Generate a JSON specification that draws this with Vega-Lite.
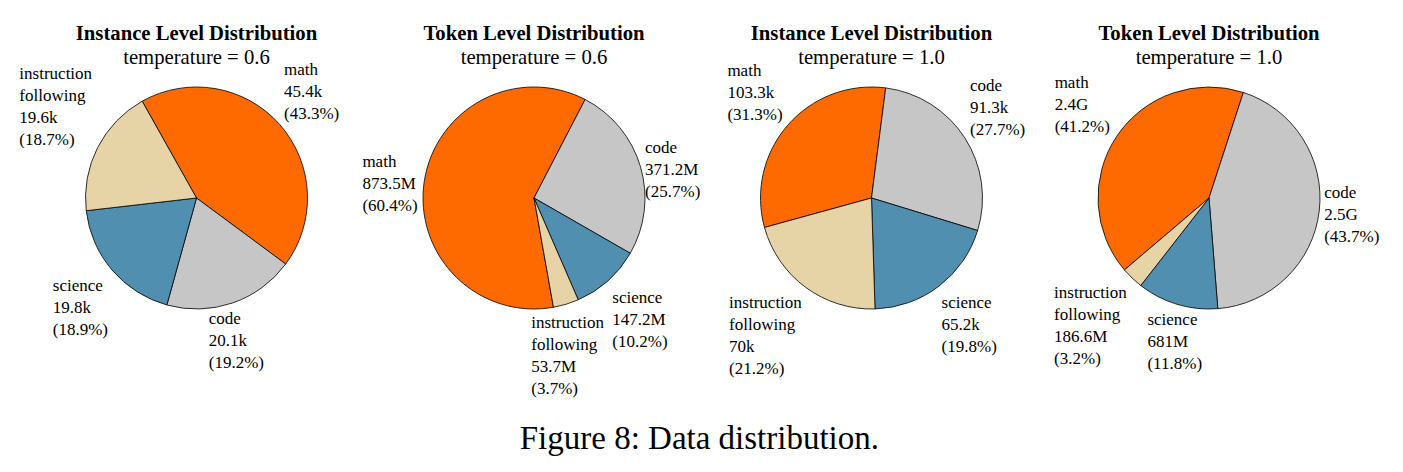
{
  "$schema": "https://vega.github.io/schema/vega-lite/v6.json",
  "background": "white",
  "padding": {"left": 19, "top": 22, "right": 5, "bottom": 5},
  "bounds": "flush",
  "spacing": 20.5,
  "title": {"text": "Figure 8: Data distribution.", "orient": "bottom", "anchor": "middle", "frame": "bounds", "font": "Liberation Serif", "fontSize": 33, "fontWeight": "normal", "color": "black", "offset": 26},
  "datasets": {
    "inst06": [
      {"category": "math", "value": 45.4, "ord": 1, "label": "math\n45.4k\n(43.3%)"},
      {"category": "code", "value": 20.1, "ord": 2, "label": "code\n20.1k\n(19.2%)"},
      {"category": "science", "value": 19.8, "ord": 3, "label": "science\n19.8k\n(18.9%)"},
      {"category": "instruction following", "value": 19.6, "ord": 4, "label": "instruction\nfollowing\n19.6k\n(18.7%)"}
    ],
    "tok06": [
      {"category": "math", "value": 873.5, "ord": 1, "label": "math\n873.5M\n(60.4%)"},
      {"category": "code", "value": 371.2, "ord": 2, "label": "code\n371.2M\n(25.7%)"},
      {"category": "science", "value": 147.2, "ord": 3, "label": "science\n147.2M\n(10.2%)"},
      {"category": "instruction following", "value": 53.7, "ord": 4, "label": "instruction\nfollowing\n53.7M\n(3.7%)"}
    ],
    "inst10": [
      {"category": "math", "value": 103.3, "ord": 1, "label": "math\n103.3k\n(31.3%)"},
      {"category": "code", "value": 91.3, "ord": 2, "label": "code\n91.3k\n(27.7%)"},
      {"category": "science", "value": 65.2, "ord": 3, "label": "science\n65.2k\n(19.8%)"},
      {"category": "instruction following", "value": 70, "ord": 4, "label": "instruction\nfollowing\n70k\n(21.2%)"}
    ],
    "tok10": [
      {"category": "math", "value": 2378, "ord": 1, "label": "math\n2.4G\n(41.2%)"},
      {"category": "code", "value": 2522, "ord": 2, "label": "code\n2.5G\n(43.7%)"},
      {"category": "science", "value": 681, "ord": 3, "label": "science\n681M\n(11.8%)"},
      {"category": "instruction following", "value": 186.6, "ord": 4, "label": "instruction\nfollowing\n186.6M\n(3.2%)"}
    ]
  },
  "hconcat": [
    {
      "width": 317, "height": 290,
      "title": {"text": "Instance Level Distribution", "subtitle": "temperature = 0.6"},
      "data": {"name": "inst06"},
      "encoding": {
        "theta": {"field": "value", "type": "quantitative", "stack": true, "scale": {"range": [-0.5114, 5.7718], "nice": false, "zero": true}},
        "order": {"field": "ord", "type": "quantitative"}
      },
      "layer": [
        {"mark": {"type": "arc", "radius": 111, "stroke": "black", "strokeWidth": 0.8},
         "encoding": {"color": {"field": "category", "type": "nominal", "scale": {"domain": ["math", "code", "science", "instruction following"], "range": ["#FF6A00", "#C6C6C6", "#508FB0", "#E6D4A7"]}, "legend": null}}},
        {"mark": {"type": "text", "align": "left", "baseline": "alphabetic", "fontSize": 17, "lineHeight": 22, "lineBreak": "\n", "font": "Liberation Serif",
                  "dx": {"expr": "datum.category === 'math' ? -4 : datum.category === 'code' ? -27.5 : datum.category === 'science' ? -51 : -68.5"},
                  "dy": {"expr": "datum.category === 'math' ? -42 : datum.category === 'code' ? 10.5 : datum.category === 'science' ? 14 : -63"}},
         "encoding": {"detail": {"field": "category"}, "color": {"value": "black"}, "radius": {"value": 122}, "text": {"field": "label"}}}
      ]
    },
    {
      "width": 317, "height": 290,
      "title": {"text": "Token Level Distribution", "subtitle": "temperature = 0.6"},
      "data": {"name": "tok06"},
      "encoding": {
        "theta": {"field": "value", "type": "quantitative", "stack": true, "scale": {"range": [2.9653, 9.2485], "nice": false, "zero": true}},
        "order": {"field": "ord", "type": "quantitative"}
      },
      "layer": [
        {"mark": {"type": "arc", "radius": 111, "stroke": "black", "strokeWidth": 0.8},
         "encoding": {"color": {"field": "category", "type": "nominal", "scale": {"domain": ["math", "code", "science", "instruction following"], "range": ["#FF6A00", "#C6C6C6", "#508FB0", "#E6D4A7"]}, "legend": null}}},
        {"mark": {"type": "text", "align": "left", "baseline": "alphabetic", "fontSize": 17, "lineHeight": 22, "lineBreak": "\n", "font": "Liberation Serif",
                  "dx": {"expr": "datum.category === 'math' ? -51 : datum.category === 'code' ? -6 : datum.category === 'science' ? -3 : -38"},
                  "dy": {"expr": "datum.category === 'math' ? -13 : datum.category === 'code' ? -10.5 : datum.category === 'science' ? 14 : 13"}},
         "encoding": {"detail": {"field": "category"}, "color": {"value": "black"}, "radius": {"value": 122}, "text": {"field": "label"}}}
      ]
    },
    {
      "width": 317, "height": 290,
      "title": {"text": "Instance Level Distribution", "subtitle": "temperature = 1.0"},
      "data": {"name": "inst10"},
      "encoding": {
        "theta": {"field": "value", "type": "quantitative", "stack": true, "scale": {"range": [-1.8396, 4.4436], "nice": false, "zero": true}},
        "order": {"field": "ord", "type": "quantitative"}
      },
      "layer": [
        {"mark": {"type": "arc", "radius": 111, "stroke": "black", "strokeWidth": 0.8},
         "encoding": {"color": {"field": "category", "type": "nominal", "scale": {"domain": ["math", "code", "science", "instruction following"], "range": ["#FF6A00", "#C6C6C6", "#508FB0", "#E6D4A7"]}, "legend": null}}},
        {"mark": {"type": "text", "align": "left", "baseline": "alphabetic", "fontSize": 17, "lineHeight": 22, "lineBreak": "\n", "font": "Liberation Serif",
                  "dx": {"expr": "datum.category === 'math' ? -52 : datum.category === 'code' ? -4 : datum.category === 'science' ? -4 : -70"},
                  "dy": {"expr": "datum.category === 'math' ? -42 : datum.category === 'code' ? -41 : datum.category === 'science' ? 13 : 12"}},
         "encoding": {"detail": {"field": "category"}, "color": {"value": "black"}, "radius": {"value": 122}, "text": {"field": "label"}}}
      ]
    },
    {
      "width": 317, "height": 290,
      "title": {"text": "Token Level Distribution", "subtitle": "temperature = 1.0"},
      "data": {"name": "tok10"},
      "encoding": {
        "theta": {"field": "value", "type": "quantitative", "stack": true, "scale": {"range": [4.0073, 10.2905], "nice": false, "zero": true}},
        "order": {"field": "ord", "type": "quantitative"}
      },
      "layer": [
        {"mark": {"type": "arc", "radius": 111, "stroke": "black", "strokeWidth": 0.8},
         "encoding": {"color": {"field": "category", "type": "nominal", "scale": {"domain": ["math", "code", "science", "instruction following"], "range": ["#FF6A00", "#C6C6C6", "#508FB0", "#E6D4A7"]}, "legend": null}}},
        {"mark": {"type": "text", "align": "left", "baseline": "alphabetic", "fontSize": 17, "lineHeight": 22, "lineBreak": "\n", "font": "Liberation Serif",
                  "dx": {"expr": "datum.category === 'math' ? -53 : datum.category === 'code' ? -6 : datum.category === 'science' ? -26.5 : -70.5"},
                  "dy": {"expr": "datum.category === 'math' ? -42 : datum.category === 'code' ? -14 : datum.category === 'science' ? 10.5 : 12"}},
         "encoding": {"detail": {"field": "category"}, "color": {"value": "black"}, "radius": {"value": 122}, "text": {"field": "label"}}}
      ]
    }
  ],
  "config": {
    "view": {"stroke": null},
    "text": {"font": "Liberation Serif"},
    "title": {"font": "Liberation Serif", "fontSize": 20.7, "fontWeight": "bold", "color": "black", "subtitleFont": "Liberation Serif", "subtitleFontSize": 20.7, "subtitleFontWeight": "normal", "subtitleColor": "black", "subtitlePadding": 4, "frame": "group", "anchor": "middle", "offset": -16}
  }
}
